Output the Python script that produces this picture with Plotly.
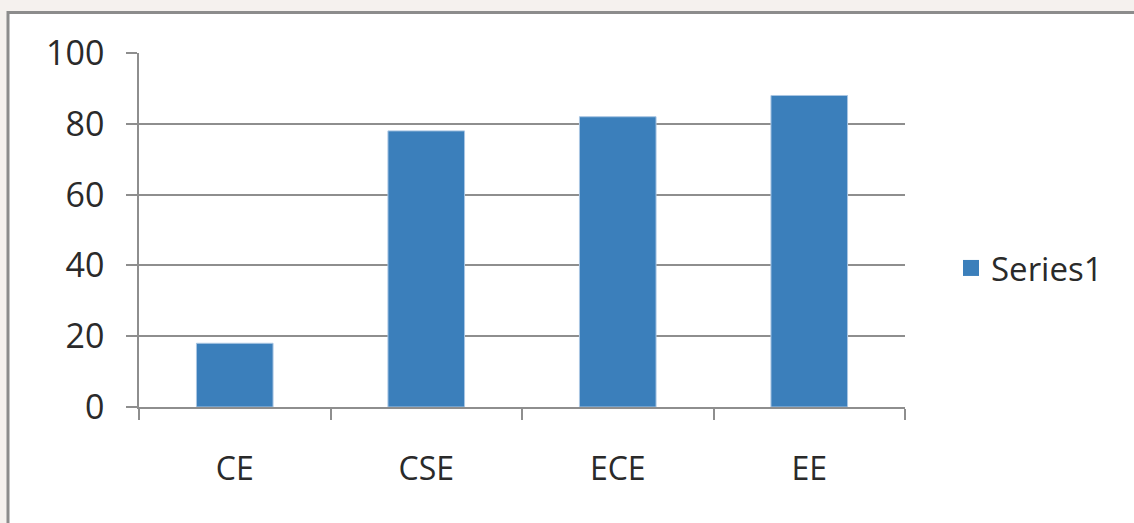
import plotly.graph_objects as go

categories = ["CE", "CSE", "ECE", "EE"]
values = [18, 78, 82, 88]
series_name = "Series1"
y_ticks = [0, 20, 40, 60, 80, 100]

bar_color = "#3b7fbb"
grid_color = "#8e8e8e"
font_family = "Open Sans, Lato, sans-serif"

fig = go.Figure()
fig.add_trace(go.Bar(
    x=categories, y=values, name=series_name,
    marker=dict(color=bar_color, line=dict(color="#a9c6e3", width=1)),
    width=0.4, showlegend=False,
))
# legend entry with a larger square swatch
fig.add_trace(go.Scatter(
    x=[None], y=[None], mode="markers", name=series_name,
    marker=dict(symbol="square", size=16, color=bar_color),
    showlegend=True,
))

fig.update_layout(
    width=1134, height=523,
    margin=dict(l=139, r=229, t=53, b=116),
    paper_bgcolor="#f5f1ee",
    plot_bgcolor="rgba(0,0,0,0)",
    font=dict(family=font_family, size=33, color="#2a2a2a"),
    showlegend=True,
    legend=dict(x=(951 - 139) / 766, xanchor="left", y=(407 - 268) / 354, yanchor="middle",
                bgcolor="rgba(0,0,0,0)", font=dict(size=33, color="#2a2a2a"),
                itemsizing="trace"),
    shapes=[dict(type="rect", xref="paper", yref="paper",
                 x0=(8.0 - 139) / 766, x1=(1145 - 139) / 766,
                 y0=(407 - 535) / 354, y1=(407 - 12.5) / 354,
                 fillcolor="white", line=dict(color="#8c8c8c", width=3), layer="below")],
)
fig.update_xaxes(
    showline=True, linecolor=grid_color, linewidth=1.5,
    ticks="outside", ticklen=11, tickcolor=grid_color, tickwidth=1.5,
    tickson="boundaries", showgrid=False, ticklabelstandoff=33,
    tickfont=dict(size=32),
)
fig.update_yaxes(
    range=[0, 100], tickvals=y_ticks, showgrid=True, gridcolor=grid_color, gridwidth=1.5,
    showline=True, linecolor=grid_color, linewidth=1.5,
    ticks="outside", ticklen=11, tickcolor=grid_color, tickwidth=1.5,
    ticklabelstandoff=15, zeroline=False, tickfont=dict(size=34),
)

fig.write_html("out.html", config={"displayModeBar": False},
               post_script="document.body.style.margin='0';document.body.style.overflow='hidden';")
